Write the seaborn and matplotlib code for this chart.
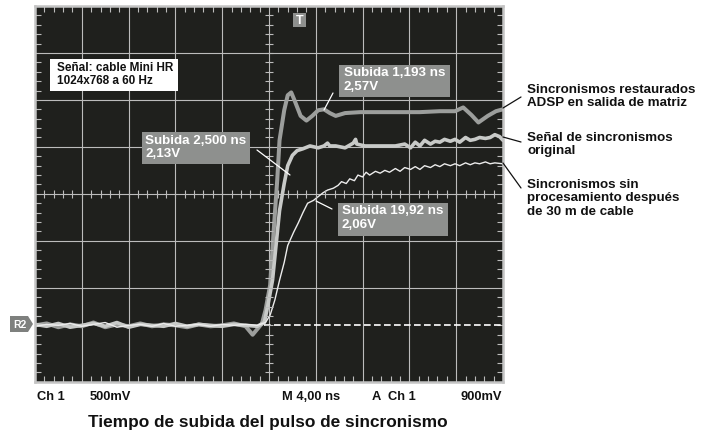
import numpy as np
import matplotlib.pyplot as plt
from matplotlib.patches import Polygon, Rectangle
from matplotlib.lines import Line2D
from matplotlib.ticker import MultipleLocator
import seaborn as sns

base_t = [-20, -19, -18, -17, -16, -15, -14, -13, -12, -11,
          -10, -9, -8, -7, -6, -5, -4, -3, -2]

# Sincronismos restaurados ADSP
t_adsp = base_t + [-1.4, -0.6, -0.3, 0.1, 0.4, 0.7, 0.9, 1.3, 1.6, 1.9,
                   2.2, 2.7, 3.2, 3.7, 4.2, 4.7, 5.2, 5.7, 6.5, 7.8,
                   9.5, 11.2, 12.9, 14.6, 15.9, 16.6, 17.3, 17.9, 18.7, 19.4, 20.0]
v_adsp = [0.00, 0.02, -0.02, 0.01, -0.01, 0.03, -0.02, 0.01, -0.01, 0.02,
          -0.01, 0.01, 0.00, -0.02, 0.01, -0.01, 0.00, 0.02, -0.01,
          -0.10, 0.02, 0.16, 0.43, 1.01, 1.54, 1.97, 2.29, 2.45, 2.48,
          2.39, 2.23, 2.18, 2.23, 2.29, 2.30, 2.26, 2.23, 2.26, 2.27,
          2.27, 2.27, 2.27, 2.28, 2.28, 2.32, 2.24, 2.16, 2.23, 2.28, 2.30]

# Señal de sincronismos original
t_orig = base_t + [-1.0, -0.4, -0.1, 0.3, 0.6, 0.9, 1.3, 1.6, 2.0, 2.4,
                   2.9, 3.5, 4.2, 4.7, 5.0, 5.2, 5.7, 6.5, 7.2, 7.4,
                   7.5, 8.2, 9.5, 10.8, 11.6, 12.1, 12.5, 12.9, 13.3, 13.8,
                   14.2, 14.6, 15.0, 15.5, 15.9, 16.3, 16.8, 17.2, 17.6, 18.0,
                   18.5, 18.9, 19.3, 19.7, 20.0]
v_orig = [0.01, -0.01, 0.02, -0.02, 0.00, 0.02, -0.01, 0.03, -0.02, 0.01,
          0.00, -0.01, 0.02, -0.01, 0.01, 0.00, -0.01, 0.01, 0.00,
          -0.01, 0.03, 0.21, 0.48, 0.85, 1.22, 1.51, 1.70, 1.81, 1.86,
          1.88, 1.91, 1.89, 1.91, 1.94, 1.91, 1.91, 1.89, 1.94, 1.98,
          1.93, 1.91, 1.91, 1.91, 1.93, 1.89, 1.95, 1.91, 1.97, 1.93,
          1.96, 1.95, 1.98, 1.96, 1.98, 1.95, 2.00, 1.97, 1.98, 2.00,
          1.99, 2.00, 2.03, 2.01, 1.97]

# Sincronismos sin procesamiento tras 30 m de cable
t_cable = base_t + [-1.0, -0.3, 0.1, 0.5, 0.9, 1.3, 1.6, 2.1, 2.5, 2.9,
                    3.3, 3.8, 4.2, 4.6, 5.0, 5.5, 5.9, 6.2, 6.6, 6.9,
                    7.3, 7.6, 8.0, 8.3, 8.6, 9.1, 9.5, 9.9, 10.3, 10.8,
                    11.2, 11.6, 12.1, 12.5, 12.9, 13.3, 13.8, 14.2, 14.6, 15.0,
                    15.5, 15.9, 16.3, 16.8, 17.2, 17.6, 18.0, 18.5, 18.9, 19.3, 20.0]
v_cable = [-0.01, 0.01, 0.00, 0.02, -0.01, 0.01, 0.03, -0.02, 0.00, 0.01,
           -0.01, 0.02, -0.01, 0.00, 0.01, -0.01, 0.01, 0.00, 0.01,
           0.00, 0.03, 0.11, 0.27, 0.48, 0.67, 0.85, 0.99, 1.09, 1.20,
           1.30, 1.33, 1.37, 1.41, 1.44, 1.46, 1.49, 1.53, 1.51, 1.56,
           1.54, 1.60, 1.58, 1.63, 1.60, 1.64, 1.62, 1.65, 1.63, 1.67,
           1.64, 1.68, 1.66, 1.69, 1.66, 1.70, 1.68, 1.71, 1.69, 1.72,
           1.70, 1.72, 1.70, 1.73, 1.71, 1.73, 1.72, 1.74, 1.72, 1.73, 1.72]

W, H = 710, 432


def fx(x):
    return x / W


def fy(y):
    return 1 - y / H


sns.set_theme(style="dark")
plt.rcParams['font.family'] = ['Liberation Sans', 'DejaVu Sans']

fig = plt.figure(figsize=(7.1, 4.32), dpi=100)
fig.patch.set_facecolor('white')
ax = fig.add_axes([fx(35), fy(381.7), (503 - 35) / W, (381.7 - 6) / H])
ax.set_facecolor('#1f201d')

grid_c = '#bcbcbc'
sns.lineplot(x=t_adsp, y=v_adsp, ax=ax, color='#9c9e9c', lw=2.9, sort=False, estimator=None)
sns.lineplot(x=t_orig, y=v_orig, ax=ax, color='#c8cac8', lw=2.6, sort=False, estimator=None)
sns.lineplot(x=t_cable, y=v_cable, ax=ax, color='#ececec', lw=1.0, sort=False, estimator=None)
ax.axhline(0, xmin=0.49, xmax=1, color='white', lw=1.2, ls=(0, (4, 2)))

ax.set_xlim(-20, 20)
ax.set_ylim(-0.6, 3.4)
ax.set_xticks(np.arange(-16, 17, 4))
ax.set_yticks(np.arange(0.4, 3.0, 0.5))
ax.xaxis.set_minor_locator(MultipleLocator(0.8))
ax.yaxis.set_minor_locator(MultipleLocator(0.1))
ax.grid(True, which='major', color=grid_c, lw=0.8)
ax.tick_params(which='major', length=0, labelbottom=False, labelleft=False)
ax.tick_params(which='minor', direction='in', length=4, width=0.8, color=grid_c,
               top=True, right=True, bottom=True, left=True)
ax.set_xlabel('')
ax.set_ylabel('')
for s in ax.spines.values():
    s.set_color('#c4c4c4')
    s.set_linewidth(1.8)

# marcas del eje central
yc = np.arange(-0.6, 3.41, 0.1)
xc = np.arange(-20, 20.1, 0.8)
ax.plot(np.zeros_like(yc), yc, ls='none', marker='_', ms=6, mew=0.8, color=grid_c)
ax.plot(xc, np.full_like(xc, 1.4), ls='none', marker='|', ms=6, mew=0.8, color=grid_c)


def rect(x0, y0, x1, y1, fc):
    fig.patches.append(Rectangle((fx(x0), fy(y1)), fx(x1 - x0), (y1 - y0) / H,
                                 transform=fig.transFigure, fc=fc, ec='none'))


def line(x0, y0, x1, y1, c, lw=0.9):
    fig.add_artist(Line2D([fx(x0), fx(x1)], [fy(y0), fy(y1)],
                          transform=fig.transFigure, color=c, lw=lw))


box_c = '#8e908e'
# cuadro de informacion
rect(50, 59, 178, 91, 'white')
fig.text(fx(57), fy(62), 'Señal: cable Mini HR\n1024x768 a 60 Hz', va='top', ha='left',
         fontsize=8.5, weight='bold', color='#111111', linespacing=1.1)

# etiquetas de subida
rect(339, 65, 450, 97, box_c)
fig.text(fx(344), fy(67.5), 'Subida 1,193 ns\n2,57V', va='top', ha='left',
         fontsize=9.6, weight='bold', color='white', linespacing=1.2)
line(333, 93, 324, 110, 'white')
rect(142, 132, 250, 164, box_c)
fig.text(fx(145), fy(134.5), 'Subida 2,500 ns\n2,13V', va='top', ha='left',
         fontsize=9.6, weight='bold', color='white', linespacing=1.2)
line(257, 150, 290, 175, 'white')
rect(338, 203, 448, 236, box_c)
fig.text(fx(342), fy(205.5), 'Subida 19,92 ns\n2,06V', va='top', ha='left',
         fontsize=9.6, weight='bold', color='white', linespacing=1.2)
line(316, 201, 332, 209, 'white')

# marcador de disparo y referencia
rect(293, 13, 306, 27, box_c)
fig.text(fx(299.5), fy(20.5), 'T', va='center', ha='center', fontsize=9,
         weight='bold', color='white')
pts = [(10, 316), (28, 316), (33, 324), (28, 332), (10, 332)]
fig.patches.append(Polygon([(fx(a), fy(b)) for a, b in pts], closed=True,
                           transform=fig.transFigure, fc='#7e807e', ec='none'))
fig.text(fx(19.5), fy(324.5), 'R2', va='center', ha='center', fontsize=7.5,
         weight='bold', color='white')

# textos de la derecha
notes = ['Sincronismos restaurados\nADSP en salida de matriz',
         'Señal de sincronismos\noriginal',
         'Sincronismos sin\nprocesamiento después\nde 30 m de cable']
tops = [84, 132, 179]
for s, y in zip(notes, tops):
    fig.text(fx(527), fy(y), s, va='top', ha='left', fontsize=9.6,
             weight='bold', color='#111111', linespacing=1.15)
line(503, 108, 521, 97, '#111111')
line(503, 137, 521, 142, '#111111')
line(503, 163, 521, 188, '#111111')

# textos inferiores
for s, x in [('Ch 1', 37), ('500mV', 90), ('M 4,00 ns', 282), ('A  Ch 1', 372)]:
    fig.text(fx(x), fy(400), s, va='baseline', ha='left', fontsize=9.3,
             weight='bold', color='#111111')
fig.text(fx(502), fy(400), '900mV', va='baseline', ha='right', fontsize=9.3,
         weight='bold', color='#111111')
fig.text(fx(268), fy(427), 'Tiempo de subida del pulso de sincronismo', va='baseline',
         ha='center', fontsize=12.4, weight='bold', color='#111111')

fig.savefig('out.png', dpi=100)
plt.close(fig)
